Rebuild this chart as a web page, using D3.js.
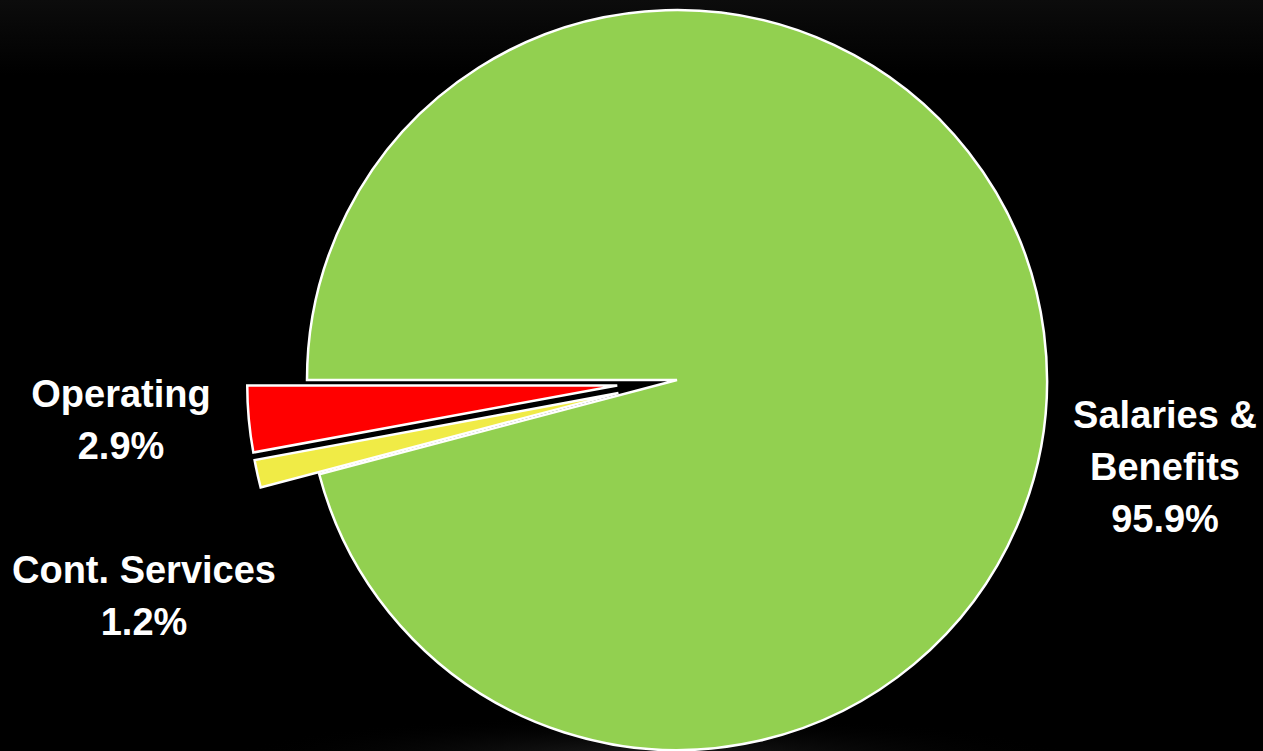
<!DOCTYPE html>
<html>
<head>
<meta charset="utf-8">
<script src="https://cdn.jsdelivr.net/npm/d3@7"></script>
<style>
  html, body { margin: 0; padding: 0; background: #000; }
  svg { display: block; }
</style>
</head>
<body>
<div id="chart"></div>
<script>
// data
const categories = ["Salaries & Benefits", "Cont. Services", "Operating"];
const shares = [95.9, 1.2, 2.9];
const labelLines = [["Salaries &", "Benefits", "95.9%"], ["Cont. Services", "1.2%"], ["Operating", "2.9%"]];

const colors = ["#92d050", "#f0eb46", "#ff0000"];
const exploded = [false, true, true];

const width = 1263, height = 751;
const cx = 677, cy = 380, radius = 370, explode = 60;

// label anchors (layout, not data)
const labelPos = [{x: 1165, y: 428}, {x: 144, y: 583}, {x: 121, y: 407}];
const lineHeight = 52;

let svg = d3.select("#chart").append("svg")
    .attr("width", width)
    .attr("height", height);

let defs = svg.append("defs");
let topGrad = defs.append("linearGradient")
    .attr("id", "bgTop")
    .attr("x1", 0).attr("y1", 0).attr("x2", 0).attr("y2", 1);
topGrad.append("stop").attr("offset", "0%").attr("stop-color", "#0c0c0c");
topGrad.append("stop").attr("offset", "10%").attr("stop-color", "#000");
topGrad.append("stop").attr("offset", "100%").attr("stop-color", "#000");

let glow = defs.append("radialGradient")
    .attr("id", "glow");
glow.append("stop").attr("offset", "0%").attr("stop-color", "#1e1e1e").attr("stop-opacity", 1);
glow.append("stop").attr("offset", "100%").attr("stop-color", "#000").attr("stop-opacity", 0);

svg.append("rect")
    .attr("width", width)
    .attr("height", height)
    .attr("fill", "url(#bgTop)");

svg.append("ellipse")
    .attr("cx", width / 2 + 20)
    .attr("cy", height + 5)
    .attr("rx", 420)
    .attr("ry", 40)
    .attr("fill", "url(#glow)");

// pie starts at 9 o'clock, going clockwise
let pie = d3.pie()
    .sort(null)
    .value((d) => d)
    .startAngle(-Math.PI / 2)
    .endAngle(3 * Math.PI / 2);

let arcs = pie(shares);
let arc = d3.arc().innerRadius(0).outerRadius(radius);

let g = svg.append("g")
    .attr("transform", "translate(" + cx + "," + cy + ")");

g.selectAll("path")
    .data(arcs)
    .enter().append("path")
    .attr("d", arc)
    .attr("fill", (d, i) => colors[i])
    .attr("stroke", "#fff")
    .attr("stroke-width", 2.5)
    .attr("stroke-linejoin", "miter")
    .attr("transform", (d, i) => {
        if (!exploded[i]) return null;
        let mid = (d.startAngle + d.endAngle) / 2;
        return "translate(" + (Math.sin(mid) * explode) + "," + (-Math.cos(mid) * explode) + ")";
    });

// labels
labelLines.forEach((lines, i) => {
    let t = svg.append("text")
        .attr("text-anchor", "middle")
        .attr("fill", "#fff")
        .attr("font-family", "'Liberation Sans Narrow', 'Arial Narrow', 'Liberation Sans', sans-serif")
        .attr("font-weight", "bold")
        .attr("font-size", 38);
    lines.forEach((line, j) => {
        t.append("tspan")
            .attr("x", labelPos[i].x)
            .attr("y", labelPos[i].y + j * lineHeight)
            .text(line);
    });
});
</script>
</body>
</html>
